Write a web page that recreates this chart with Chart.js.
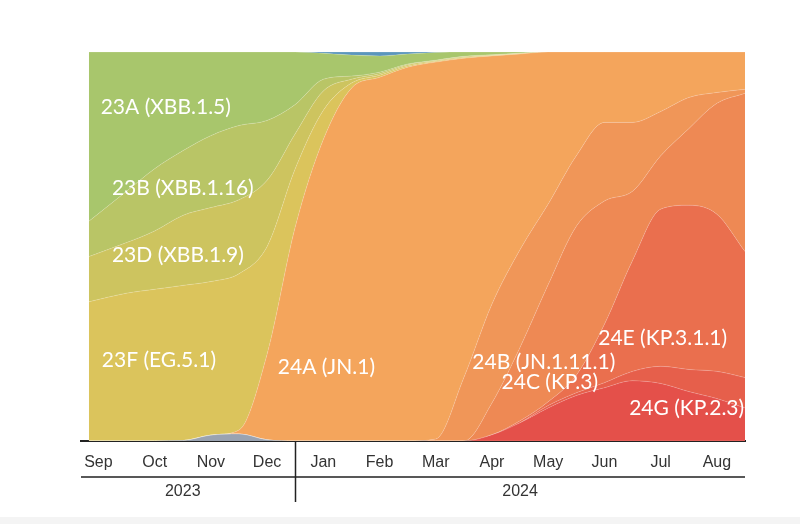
<!DOCTYPE html>
<html>
<head>
<meta charset="utf-8">
<script src="https://cdn.jsdelivr.net/npm/chart.js@4.4.1/dist/chart.umd.min.js"></script>
<style>
  html, body { margin: 0; padding: 0; background: #fff; }
  #wrap { position: relative; width: 800px; height: 524px; overflow: hidden; }
  #strip { position: absolute; left: 0; top: 517px; width: 800px; height: 7px; background: #f4f4f4; }
</style>
</head>
<body>
<div id="wrap">
  <canvas id="chart" width="800" height="524"></canvas>
  <div id="strip"></div>
</div>
<script>
// time in months counted from 1 Sep 2023 (0 = Sep 1, 4 = Jan 1 2024, 12 = Sep 1 2024)
const months = [0.33, 1, 1.5, 2, 2.5, 3, 3.5, 4, 4.5, 5, 5.5, 6, 6.5, 7, 7.5, 8, 8.5, 9, 9.5, 10, 10.5, 11, 11.5, 12];
const monthNames = ['Sep', 'Oct', 'Nov', 'Dec', 'Jan', 'Feb', 'Mar', 'Apr', 'May', 'Jun', 'Jul', 'Aug'];
const years = ['2023', '2024'];
const yearStarts = [0, 4];
const yearEnds = [4, 12];

// clade frequencies (%), bottom of the stack first
const c23I = [0, 0, 0, 0.1, 1.5, 1.8, 0.3, 0, 0, 0, 0, 0, 0, 0, 0, 0, 0, 0, 0, 0, 0, 0, 0, 0];
const c24G = [0, 0, 0, 0, 0, 0, 0, 0, 0, 0, 0, 0, 0, 0, 1.6, 4.7, 8.5, 11.7, 13.7, 15.5, 14.8, 12.7, 10.9, 8.5];
const c24F = [0, 0, 0, 0, 0, 0, 0, 0, 0, 0, 0, 0, 0, 0, 0, 0, 0.6, 0.7, 1.3, 2.4, 4.4, 5.7, 7.0, 7.8];
const c24E = [0, 0, 0, 0, 0, 0, 0, 0, 0, 0, 0, 0, 0, 0, 0, 0.5, 1.0, 4.5, 15.0, 28.5, 40.4, 42.2, 40.4, 32.4];
const c24C = [0, 0, 0, 0, 0, 0, 0, 0, 0, 0, 0, 0, 0, 0, 8.2, 18.9, 30.1, 38.3, 31.7, 17.8, 13.7, 19.7, 28.5, 40.7];
const c24B = [0, 0, 0, 0, 0, 0, 0, 0, 0, 0, 0, 0, 0.5, 16.3, 25.4, 25.1, 20.7, 18.1, 20.2, 17.7, 11.4, 8.0, 2.8, 1.0];
const c24A = [0, 0, 0, 0, 0, 1.0, 22.0, 55.0, 77.5, 90.7, 93.5, 96.1, 96.9, 82.1, 63.8, 50.3, 39.1, 26.7, 18.1, 18.1, 15.3, 11.7, 10.4, 9.6];
const c23F = [35.8, 38, 39, 39.9, 39.5, 40.2, 27.7, 15, 7.5, 1.3, 0.5, 0.3, 0.2, 0.2, 0.1, 0.1, 0, 0, 0, 0, 0, 0, 0, 0];
const c23D = [11.6, 13, 15, 18, 19, 19, 17, 9, 5, 1.0, 0.4, 0.3, 0.2, 0.2, 0.1, 0.1, 0, 0, 0, 0, 0, 0, 0, 0];
const c23B = [9.1, 13.2, 16, 16.6, 18.5, 19.1, 15.4, 7.5, 3, 0.8, 0.4, 0.2, 0.1, 0.1, 0.1, 0, 0, 0, 0, 0, 0, 0, 0, 0];
const c23A = [43.5, 35.8, 30, 25.4, 21.5, 18.9, 17.6, 13.5, 6.7, 5.4, 4.2, 2.6, 2.0, 1.1, 0.7, 0.3, 0, 0, 0, 0, 0, 0, 0, 0];
const cOther = [0, 0, 0, 0, 0, 0, 0, 0, 0.3, 0.8, 1.0, 0.5, 0.1, 0, 0, 0, 0, 0, 0, 0, 0, 0, 0, 0];

const layers = [
    { name: '23I', data: c23I, color: '#9aa3b1' },
    { name: '24G', data: c24G, color: '#e4504a' },
    { name: '24F', data: c24F, color: '#e65f4b' },
    { name: '24E', data: c24E, color: '#ea6f4e' },
    { name: '24C', data: c24C, color: '#ee8954' },
    { name: '24B', data: c24B, color: '#f09658' },
    { name: '24A', data: c24A, color: '#f4a55c' },
    { name: '23F', data: c23F, color: '#dbc45c' },
    { name: '23D', data: c23D, color: '#cdc45f' },
    { name: '23B', data: c23B, color: '#b9c566' },
    { name: '23A', data: c23A, color: '#a8c66c' },
    { name: 'other', data: cOther, color: '#5b96bd' }
];

// in-area clade labels: [month, percent] anchor of the text's left/middle
const cladeLabels = [
    { text: '23A (XBB.1.5)', at: [0.54, 85.9] },
    { text: '23B (XBB.1.16)', at: [0.74, 65.0] },
    { text: '23D (XBB.1.9)', at: [0.74, 47.8] },
    { text: '23F (EG.5.1)', at: [0.56, 20.8] },
    { text: '24A (JN.1)', at: [3.69, 19.0] },
    { text: '24B (JN.1.11.1)', at: [7.15, 20.3] },
    { text: '24C (KP.3)', at: [7.67, 15.2] },
    { text: '24E (KP.3.1.1)', at: [9.39, 26.5] },
    { text: '24G (KP.2.3)', at: [9.94, 8.5] }
];

const overlay = {
    id: 'overlay',
    afterDatasetsDraw(chart) {
        const { ctx, chartArea: a, scales: { x, y } } = chart;
        ctx.save();
        ctx.beginPath();
        ctx.rect(a.left, a.top, a.right - a.left, a.bottom - a.top);
        ctx.clip();
        ctx.fillStyle = '#ffffff';
        ctx.font = '21px Lato';
        ctx.textAlign = 'left';
        ctx.textBaseline = 'middle';
        cladeLabels.forEach(l => {
            ctx.fillText(l.text, x.getPixelForValue(l.at[0]), y.getPixelForValue(l.at[1]));
        });
        ctx.restore();
    },
    afterDraw(chart) {
        // year row under the month ticks
        const { ctx, scales: { x } } = chart;
        const rowY = x.top + 36;
        ctx.save();
        ctx.strokeStyle = '#222';
        ctx.lineWidth = 1.5;
        ctx.beginPath();
        ctx.moveTo(x.left, rowY);
        ctx.lineTo(x.right, rowY);
        const bx = Math.round(x.getPixelForValue(yearStarts[1])) + 0.5;
        ctx.moveTo(bx, x.top);
        ctx.lineTo(bx, x.top + 61);
        ctx.stroke();
        ctx.fillStyle = '#333';
        ctx.font = '16px "Liberation Sans", sans-serif';
        ctx.textAlign = 'center';
        ctx.textBaseline = 'middle';
        years.forEach((yr, i) => {
            ctx.fillText(yr, x.getPixelForValue((yearStarts[i] + yearEnds[i]) / 2), rowY + 15);
        });
        ctx.restore();
    }
};

new Chart(document.getElementById('chart'), {
    type: 'line',
    data: {
        datasets: layers.map((l, i) => ({
            label: l.name,
            data: months.map((m, j) => ({ x: m, y: l.data[j] })),
            backgroundColor: l.color,
            borderColor: 'rgba(255,255,255,0.22)',
            borderWidth: 0.8,
            pointRadius: 0,
            fill: i === 0 ? 'origin' : '-1',
            cubicInterpolationMode: 'monotone'
        }))
    },
    options: {
        responsive: false,
        animation: false,
        layout: { padding: { left: 81, right: 55, top: 52, bottom: 0 } },
        plugins: { legend: { display: false }, tooltip: { enabled: false } },
        scales: {
            x: {
                type: 'linear',
                min: 0.19,
                max: 12,
                grid: { display: false, drawTicks: false },
                border: { display: true, color: '#222', width: 2 },
                afterBuildTicks(scale) {
                    scale.ticks = monthNames.map((n, i) => ({ value: i + 0.5 }));
                },
                afterFit(scale) { scale.height = 83; },
                ticks: {
                    padding: 12,
                    color: '#333',
                    font: { family: '"Liberation Sans", sans-serif', size: 16 },
                    maxRotation: 0,
                    autoSkip: false,
                    callback: v => monthNames[Math.round(v - 0.5)]
                }
            },
            y: {
                display: false,
                stacked: true,
                min: 0,
                max: 100
            }
        }
    },
    plugins: [overlay]
});
</script>
</body>
</html>
